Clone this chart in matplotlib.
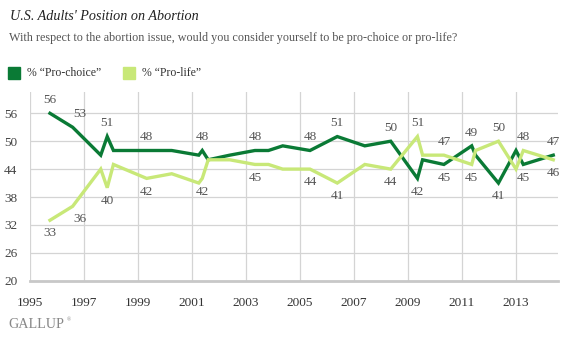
import matplotlib
matplotlib.use("Agg")
import matplotlib.pyplot as plt
from matplotlib.patches import Rectangle

# ---- data ----
dates = [1995.74, 1996.58, 1997.62, 1997.86, 1998.09, 1999.32, 2000.25, 2001.25,
         2001.38, 2001.6, 2002.4, 2003.33, 2003.83, 2004.36, 2005.37, 2006.38,
         2007.4, 2008.36, 2009.35, 2009.54, 2010.33, 2011.36, 2011.5, 2012.35,
         2013.0, 2013.27, 2014.38]
pro_choice = [56, 53, 47, 51, 48, 48, 48, 47, 48, 46, 47, 48, 48, 49, 48, 51,
              49, 50, 42, 46, 45, 49, 47, 41, 48, 45, 47]
pro_life = [33, 36, 44, 40, 45, 42, 43, 41, 42, 46, 46, 45, 45, 44, 44, 41,
            45, 44, 51, 47, 47, 45, 48, 50, 44, 48, 46]
labeled = [0, 1, 3, 5, 8, 11, 14, 15, 17, 18, 20, 21, 23, 25, 26]
y_ticks = [20, 26, 32, 38, 44, 50, 56]
x_ticks = [1995, 1997, 1999, 2001, 2003, 2005, 2007, 2009, 2011, 2013]

title = "U.S. Adults' Position on Abortion"
subtitle = "With respect to the abortion issue, would you consider yourself to be pro-choice or pro-life?"
series_names = ["% \u201cPro-choice\u201d", "% \u201cPro-life\u201d"]

DARK = "#0a7a35"
LIGHT = "#c8e878"
SERIF = ["Liberation Serif", "DejaVu Serif"]

W, H = 566, 342
fig = plt.figure(figsize=(W / 100, H / 100), dpi=100)
ax = fig.add_axes([30 / W, (H - 280.7) / H, 528 / W, (280.7 - 92) / H])

ax.set_xlim(1995, 1995 + 528 / 27)
ax.set_ylim(20, 20 + (280.7 - 92) / 4.65)

ax.plot(dates, pro_choice, color=DARK, lw=2.4, solid_joinstyle="miter", zorder=3)
ax.plot(dates, pro_life, color=LIGHT, lw=2.4, solid_joinstyle="miter", zorder=4)

for i in labeled:
    pc, pl = pro_choice[i], pro_life[i]
    for v, other in ((pc, pl), (pl, pc)):
        above = v >= other
        dx = 7 if i == 1 else 0
        ax.annotate(str(v), (dates[i], v), xytext=(dx * 0.72, 9.5 if above else -9.5),
                    textcoords="offset points", ha="center", va="center",
                    fontsize=9.5, color="#555555", family=SERIF, zorder=5)

ax.set_yticks(y_ticks)
ax.set_xticks(x_ticks)
ax.set_yticklabels([str(v) for v in y_ticks], family=SERIF, fontsize=9.5, color="#444444")
ax.set_xticklabels([str(v) for v in x_ticks], family=SERIF, fontsize=9.5, color="#333333")
ax.tick_params(axis="both", length=0)
ax.tick_params(axis="y", pad=9)
ax.tick_params(axis="x", pad=12)
ax.grid(True, color="#d4d4d4", lw=0.9, zorder=0)
for s in ("top", "right", "left"):
    ax.spines[s].set_visible(False)
ax.spines["bottom"].set_color("#c8c8c8")
ax.spines["bottom"].set_linewidth(2)
ax.spines["bottom"].set_zorder(2)

fig.text(10 / W, 1 - 16 / H, title, family=SERIF, style="italic", fontsize=10.2,
         color="#222222", va="center", ha="left")
fig.text(9 / W, 1 - 37.5 / H, subtitle, family=SERIF, fontsize=8.75,
         color="#555555", va="center", ha="left")

# legend
fig.patches.append(Rectangle((8 / W, 1 - 79 / H), 12 / W, 12 / H, color=DARK,
                             transform=fig.transFigure, figure=fig))
fig.text(27 / W, 1 - 72.5 / H, series_names[0], family=SERIF, fontsize=8.5,
         color="#333333", va="center", ha="left")
fig.patches.append(Rectangle((123 / W, 1 - 79 / H), 12 / W, 12 / H, color=LIGHT,
                             transform=fig.transFigure, figure=fig))
fig.text(142 / W, 1 - 72.5 / H, series_names[1], family=SERIF, fontsize=8.5,
         color="#333333", va="center", ha="left")

fig.text(8 / W, 1 - 324 / H, "GALLUP", family=SERIF, fontsize=10.2,
         color="#888888", va="center", ha="left")
fig.text(67 / W, 1 - 320 / H, "\u00ae", family=SERIF, fontsize=4,
         color="#888888", va="center", ha="left")

fig.savefig("out.png", dpi=100)
